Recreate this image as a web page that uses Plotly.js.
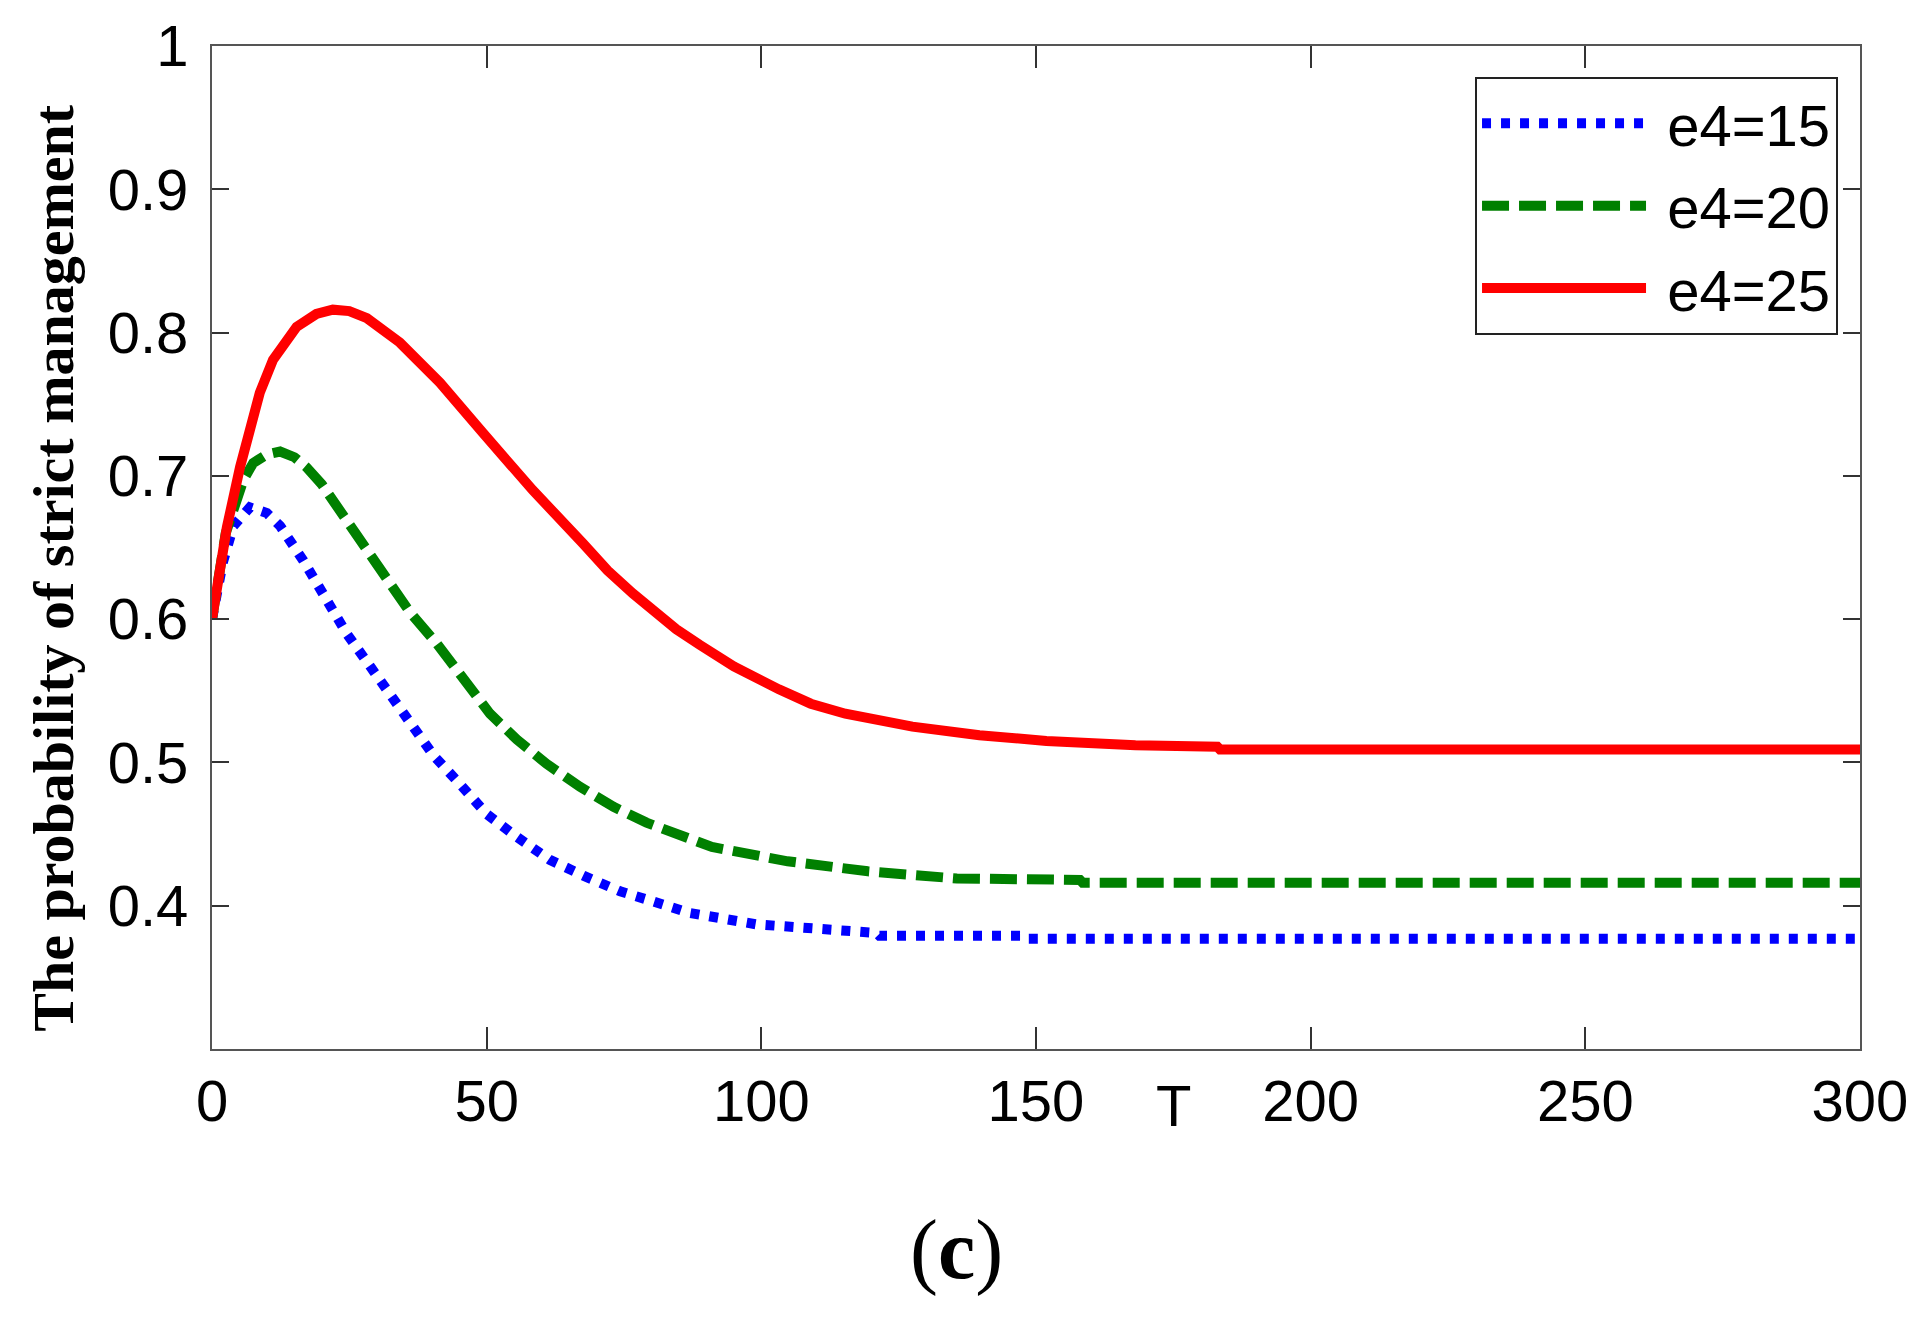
<!DOCTYPE html>
<html>
<head>
<meta charset="utf-8">
<script src="https://cdn.plot.ly/plotly-3.0.1.min.js"></script>
<style>
  html, body { margin: 0; padding: 0; background: #ffffff; }
  #chart { width: 1912px; height: 1318px; }
</style>
</head>
<body>
<div id="chart"></div>
<script>
// ---- data ----
const seriesNames = ['e4=15', 'e4=20', 'e4=25'];

const tBlue = [0, 2, 3.9, 6.9, 10, 12.4, 16.6, 20.3, 24.5, 28.8, 33, 37.3, 40.3, 45.1, 50, 55.5, 61.5, 67.6, 74.3, 80.3, 86.9, 99.1, 111.3, 121, 121.5, 148, 148.5, 300];
const pBlue = [0.600, 0.640, 0.665, 0.678, 0.674, 0.665, 0.641, 0.616, 0.590, 0.567, 0.544, 0.522, 0.505, 0.485, 0.464, 0.448, 0.432, 0.421, 0.410, 0.403, 0.395, 0.387, 0.383, 0.381, 0.379, 0.379, 0.377, 0.377];

const tGreen = [0, 2.5, 5.7, 7.5, 10, 12.4, 15, 17.2, 20, 23.3, 28.2, 31.8, 36, 40.9, 45.8, 50.6, 55.5, 60.9, 67, 73.1, 79.1, 85.8, 91, 104.8, 119.4, 135.6, 158, 158.5, 300];
const pGreen = [0.600, 0.660, 0.697, 0.709, 0.715, 0.717, 0.713, 0.706, 0.694, 0.676, 0.648, 0.627, 0.605, 0.583, 0.558, 0.534, 0.516, 0.499, 0.483, 0.469, 0.458, 0.448, 0.441, 0.431, 0.424, 0.419, 0.418, 0.416, 0.416];

const tRed = [0, 2.7, 5.1, 6.9, 8.7, 11.1, 15.4, 19, 22, 25, 28.2, 34.2, 41.5, 49.3, 58.4, 67.5, 72, 76.6, 80.4, 84.5, 88.8, 95, 103.2, 109, 115.3, 121, 127.5, 139.7, 151.9, 168.1, 183, 183.5, 300];
const pRed = [0.600, 0.664, 0.706, 0.732, 0.758, 0.781, 0.804, 0.813, 0.816, 0.815, 0.810, 0.793, 0.765, 0.730, 0.690, 0.653, 0.634, 0.618, 0.605, 0.593, 0.582, 0.567, 0.551, 0.541, 0.534, 0.529, 0.525, 0.519, 0.515, 0.512, 0.511, 0.509, 0.509];

const xTickVals = [0, 50, 100, 150, 200, 250, 300];
const xTickText = ['0', '50', '100', '150', '200', '250', '300'];
const yTickVals = [0.4, 0.5, 0.6, 0.7, 0.8, 0.9, 1.0];
const yTickText = ['0.4', '0.5', '0.6', '0.7', '0.8', '0.9', '1'];

const yTitle = 'The probability of strict management';
const xLabel = 'T';
const panelLabel = '(<b>c</b>)';

// ---- chart ----
const sansFont = '"Liberation Sans", Arial, sans-serif';
const serifFont = '"Liberation Serif", "Times New Roman", serif';
const gap = '\u00a0';

const traces = [
  { x: tBlue, y: pBlue, name: gap + seriesNames[0], mode: 'lines', legendgroup: 'g1',
    line: { color: '#0000ff', width: 10, dash: '9px,10px' } },
  { x: tGreen, y: pGreen, name: gap + seriesNames[1], mode: 'lines', legendgroup: 'g2',
    line: { color: '#008000', width: 10, dash: '27px,10px' } },
  { x: tRed, y: pRed, name: gap + seriesNames[2], mode: 'lines', legendgroup: 'g3',
    line: { color: '#ff0000', width: 10 } }
];

const axisCommon = {
  showline: true, linecolor: '#555555', linewidth: 2,
  mirror: 'ticks', ticks: 'inside', tickcolor: '#333333', tickwidth: 2,
  showgrid: false, zeroline: false,
  tickfont: { family: sansFont, size: 58, color: '#000000' }
};

const layout = {
  width: 1912, height: 1318,
  paper_bgcolor: '#ffffff', plot_bgcolor: '#ffffff',
  margin: { l: 212, r: 52, t: 46, b: 269 },
  showlegend: true,
  xaxis: Object.assign({}, axisCommon, {
    range: [0, 300], tickvals: xTickVals, ticktext: xTickText,
    ticklen: 22, ticklabelstandoff: 0
  }),
  yaxis: Object.assign({}, axisCommon, {
    range: [0.3, 1.0], tickvals: yTickVals, ticktext: yTickText,
    ticklen: 17, ticklabelstandoff: 10
  }),
  legend: {
    x: 0.7664, y: 0.969, xanchor: 'left', yanchor: 'top',
    bgcolor: '#ffffff', bordercolor: '#222222', borderwidth: 2,
    font: { family: sansFont, size: 58, color: '#000000' },
    itemwidth: 164, tracegroupgap: 4, traceorder: 'grouped'
  },
  annotations: [
    { text: yTitle, xref: 'paper', yref: 'paper', x: -0.096, y: 0.4796,
      xanchor: 'center', yanchor: 'middle', textangle: -90, showarrow: false,
      font: { family: serifFont, size: 58, color: '#000000', weight: 'bold' } },
    { text: xLabel, xref: 'x', yref: 'paper', x: 175, y: -0.056,
      xanchor: 'center', yanchor: 'middle', showarrow: false,
      font: { family: sansFont, size: 58, color: '#000000' } },
    { text: panelLabel, xref: 'paper', yref: 'paper', x: 0.452, y: -0.200,
      xanchor: 'center', yanchor: 'middle', showarrow: false,
      font: { family: serifFont, size: 84, color: '#000000' } }
  ]
};

Plotly.newPlot('chart', traces, layout, { staticPlot: true, displayModeBar: false });
</script>
</body>
</html>
